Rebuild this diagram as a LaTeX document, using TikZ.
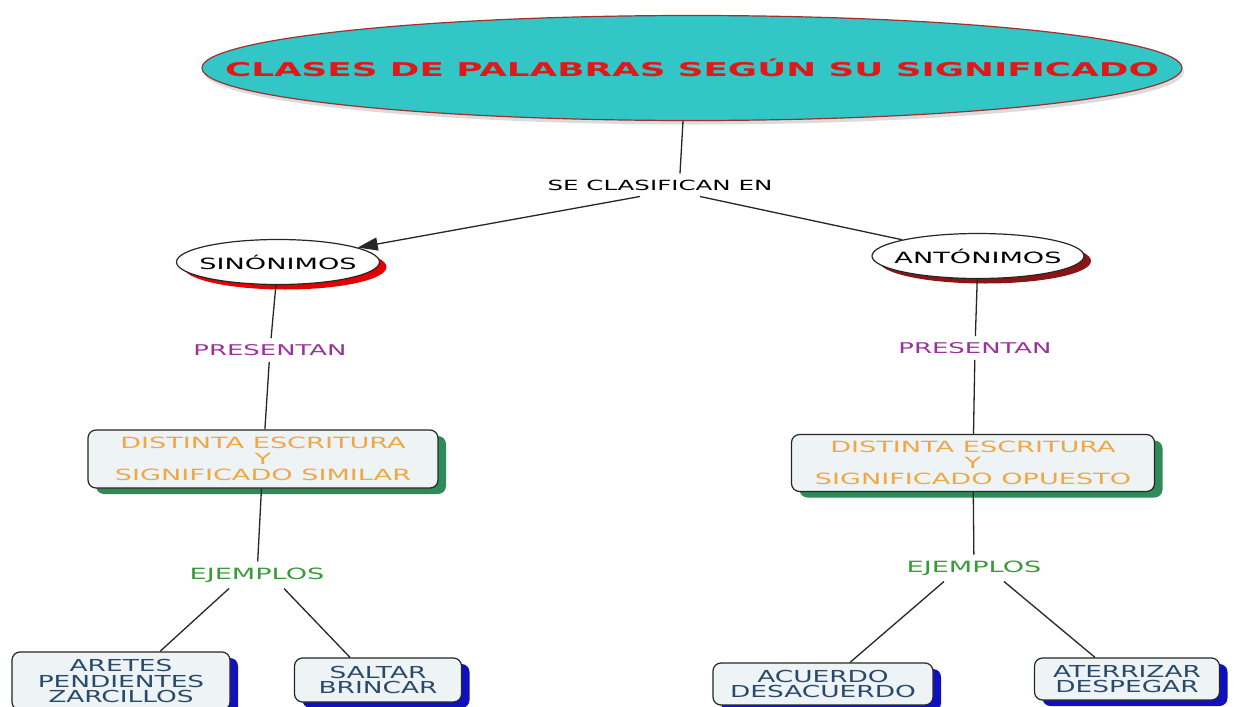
\documentclass[tikz,border=0pt]{standalone}
\usepackage{fontspec}
\usetikzlibrary{shapes.geometric,shadows,arrows.meta}
\newfontfamily\mf[FakeStretch=1.75]{DejaVu Sans}
\newfontfamily\ef[FakeStretch=1.6]{DejaVu Sans}
\newfontfamily\tf[FakeStretch=1.88]{DejaVu Sans}
\definecolor{teal1}{HTML}{33C6C6}
\definecolor{titlered}{HTML}{E01818}
\definecolor{edgered}{HTML}{A03030}
\definecolor{boxfill}{HTML}{EEF3F6}
\definecolor{orangetxt}{HTML}{EFA846}
\definecolor{purpletxt}{HTML}{993399}
\definecolor{greentxt}{HTML}{3A9A3A}
\definecolor{greenshadow}{HTML}{2E8B57}
\definecolor{blueshadow}{HTML}{1010C0}
\definecolor{bluetxt}{HTML}{2A4A6A}
\definecolor{darkred}{HTML}{8B1414}
\begin{document}
\begin{tikzpicture}[x=1pt,y=-1pt,
  every node/.style={font=\mf\fontsize{14}{16}\selectfont, inner sep=0pt},
  conn/.style={draw=black!85, line width=1.3pt},
  oval/.style={ellipse, draw=black!85, line width=1.2pt, fill=white, inner xsep=-9pt,
     font=\mf\fontsize{15.5}{16}\selectfont},
  lbl/.style={inner sep=6pt},
  midbox/.style={rounded corners=8pt, draw=black!85, line width=1.2pt, fill=boxfill,
     text=orangetxt, align=center, font=\mf\fontsize{15.5}{16}\selectfont,
     drop shadow={shadow xshift=8pt, shadow yshift=-6pt, fill=greenshadow, opacity=1}},
  exbox/.style={rounded corners=8pt, draw=black!85, line width=1.2pt, fill=boxfill,
     text=bluetxt, align=center, font=\ef\fontsize{16.5}{15.5}\selectfont,
     drop shadow={shadow xshift=8pt, shadow yshift=-6pt, fill=blueshadow, opacity=1}}
]
\useasboundingbox[fill=white] (0,0) rectangle (1235,707);

% title
\node[ellipse, minimum width=980, minimum height=105, fill=teal1, draw=edgered, line width=1.2pt,
  drop shadow={shadow xshift=2pt, shadow yshift=-4pt, fill=gray!45, opacity=0.6},
  label={[font=\tf\bfseries\fontsize{19}{19}\selectfont, text=titlered]center:CLASES DE PALABRAS SEGÚN SU SIGNIFICADO}]
  (title) at (692,68) {};

\node[lbl] (se) at (660,185) {SE CLASIFICAN EN};

\node[oval, minimum width=203, minimum height=45,
  drop shadow={shadow xshift=7pt, shadow yshift=-5pt, fill=red!90!black, opacity=1}]
  (sin) at (278,262) {SINÓNIMOS};
\node[oval, minimum width=212, minimum height=45,
  drop shadow={shadow xshift=7pt, shadow yshift=-5pt, fill=darkred, opacity=1}]
  (ant) at (978,256) {ANTÓNIMOS};

\node[lbl, text=purpletxt, font=\mf\fontsize{14.8}{16}\selectfont] (pres1) at (270,350) {PRESENTAN};
\node[lbl, text=purpletxt, font=\mf\fontsize{14.8}{16}\selectfont] (pres2) at (975,348) {PRESENTAN};

\node[midbox, minimum width=350, minimum height=58] (box1) at (263,459)
  {DISTINTA ESCRITURA\\Y\\SIGNIFICADO SIMILAR};
\node[midbox, minimum width=363, minimum height=57] (box2) at (973,463)
  {DISTINTA ESCRITURA\\Y\\SIGNIFICADO OPUESTO};

\node[lbl, text=greentxt, font=\mf\fontsize{15.5}{16}\selectfont] (ej1) at (257,575) {EJEMPLOS};
\node[lbl, text=greentxt, font=\mf\fontsize{15.5}{16}\selectfont] (ej2) at (974,568) {EJEMPLOS};

\node[exbox, minimum width=218, minimum height=58] (b1) at (121,681)
  {ARETES\\PENDIENTES\\ZARCILLOS};
\node[exbox, minimum width=167, minimum height=44] (b2) at (378,680)
  {SALTAR\\BRINCAR};
\node[exbox, minimum width=220, minimum height=42] (b3) at (823,684)
  {ACUERDO\\DESACUERDO};
\node[exbox, minimum width=185, minimum height=42] (b4) at (1127,679)
  {ATERRIZAR\\DESPEGAR};

% connectors
\draw[conn] ([xshift=-9pt]title.south) -- ([xshift=20pt]se.north);
\draw[conn, -{Triangle[length=20pt,width=13pt]}] ([xshift=-20pt]se.south) -- (sin);
\draw[conn] ([xshift=40pt]se.south) -- (ant);
\draw[conn] (sin) -- (pres1);
\draw[conn] (pres1) -- (box1);
\draw[conn] (ant) -- (pres2);
\draw[conn] (pres2) -- (box2);
\draw[conn] (box1) -- (ej1);
\draw[conn] (box2) -- (ej2);
\draw[conn] ([xshift=-28pt]ej1.south) -- ([xshift=39pt]b1.north);
\draw[conn] ([xshift=27pt]ej1.south) -- ([xshift=-28pt]b2.north);
\draw[conn] ([xshift=-30pt]ej2.south) -- ([xshift=27pt]b3.north);
\draw[conn] ([xshift=30pt]ej2.south) -- ([xshift=-32pt]b4.north);
\end{tikzpicture}
\end{document}
